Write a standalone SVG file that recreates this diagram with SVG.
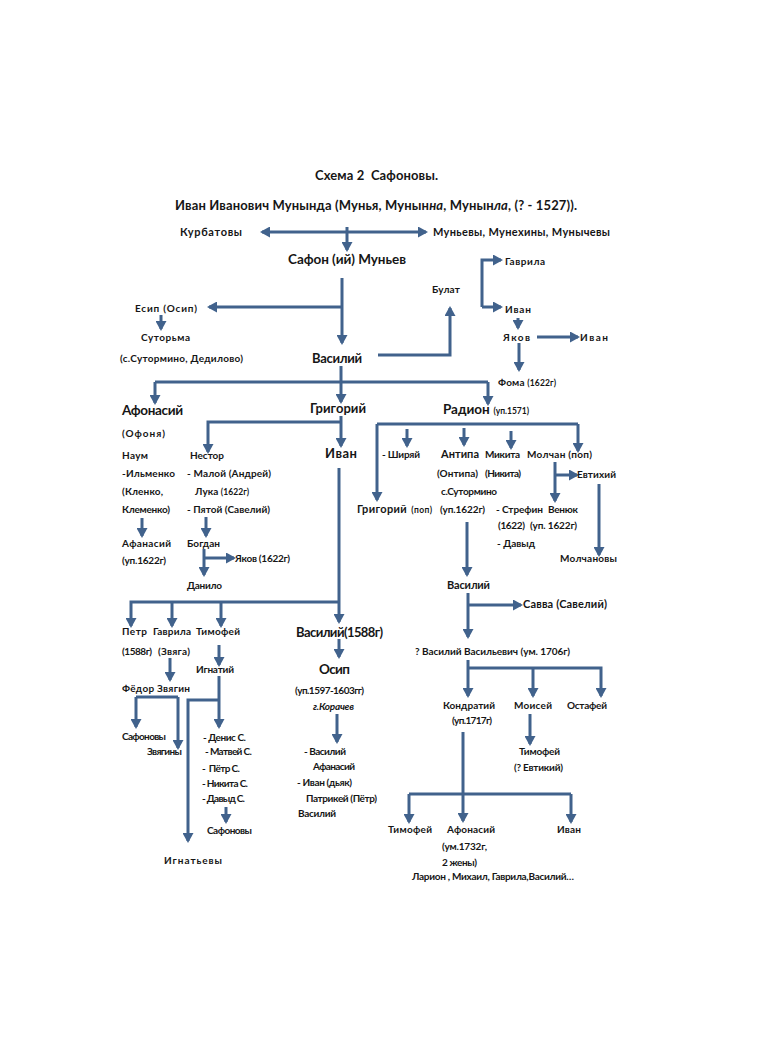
<svg xmlns="http://www.w3.org/2000/svg" width="772" height="1058" viewBox="0 0 772 1058">
<style>
text{font-family:Lato,"Open Sans","Liberation Sans",sans-serif;font-weight:bold;fill:#161616;white-space:pre}
.t{font-size:13px}
.l{font-size:13.5px}
.m{font-size:11px}
.s{font-size:10px}
.xs{font-size:8.5px}
.i{font-style:italic}
.c path{fill:none;stroke:#41628c;stroke-width:3;stroke-linejoin:miter}
.a{marker-end:url(#ah)}
</style>
<defs>
<marker id="ah" markerUnits="userSpaceOnUse" markerWidth="11" markerHeight="11" refX="8" refY="5.5" orient="auto">
<path d="M0,0 L10,5.5 L0,11 z" fill="#41628c"/>
</marker>
</defs>
<rect width="772" height="1058" fill="#fff"/>
<g id="connectors" class="c">
<path class="a" d="M347,227 V250"/>
<path class="a" d="M347,232 H262"/>
<path class="a" d="M347,232 H426"/>
<path class="a" d="M342,278 V343"/>
<path class="a" d="M342,307 H209"/>
<path class="a" d="M161,315 V329"/>
<path class="a" d="M378,355 H450 V308"/>
<path class="a" d="M482,307 V260 H501"/>
<path class="a" d="M482,307 H501"/>
<path class="a" d="M518,318 V328"/>
<path class="a" d="M537,337 H578"/>
<path class="a" d="M519,343 V370"/>
<path d="M155,382 H488"/>
<path class="a" d="M155,382 V403"/>
<path class="a" d="M488,382 V404"/>
<path class="a" d="M341,366 V402"/>
<path class="a" d="M341,416 V446"/>
<path class="a" d="M341,422 H208 V452"/>
<path class="a" d="M142,518 V536"/>
<path class="a" d="M206,517 V536"/>
<path class="a" d="M204,549 V575"/>
<path class="a" d="M204,558 H234"/>
<path d="M377,424 H578"/>
<path class="a" d="M377,424 V500"/>
<path class="a" d="M578,424 V451"/>
<path class="a" d="M407,429 V446"/>
<path class="a" d="M464,428 V445"/>
<path class="a" d="M511,431 V448"/>
<path class="a" d="M555,462 V501"/>
<path class="a" d="M555,475 H577"/>
<path class="a" d="M599,484 V555"/>
<path class="a" d="M467,522 V575"/>
<path class="a" d="M339,468 V622"/>
<path class="a" d="M339,602 H131 V626"/>
<path class="a" d="M172,602 V626"/>
<path class="a" d="M221,602 V626"/>
<path class="a" d="M339,639 V657"/>
<path class="a" d="M337,714 V742"/>
<path class="a" d="M170,658 V680"/>
<path class="a" d="M219,645 V665"/>
<path class="a" d="M219,676 V727"/>
<path class="a" d="M219,700 H188 V841"/>
<path d="M136,697 H178"/>
<path class="a" d="M136,697 V727"/>
<path class="a" d="M178,697 V748"/>
<path class="a" d="M226,807 V822"/>
<path class="a" d="M468,593 V637"/>
<path class="a" d="M468,605 H521"/>
<path class="a" d="M468,660 V696"/>
<path class="a" d="M468,668 H601 V696"/>
<path class="a" d="M533,668 V696"/>
<path class="a" d="M530,714 V744"/>
<path class="a" d="M463,732 V821"/>
<path d="M409,794 H571"/>
<path class="a" d="M409,794 V822"/>
<path class="a" d="M571,794 V822"/>
</g>
<g id="title"><text class="t" x="315" y="180" textLength="123">Схема 2  Сафоновы.</text></g>
<g id="ivan-munynda"><text class="t" x="175" y="210" textLength="402">Иван Иванович Мунында (Мунья, Мунын<tspan class="i">на</tspan>, Мунын<tspan class="i">ла</tspan>, (? - 1527)).</text></g>
<g id="kurbatovy"><text class="m" x="180" y="236" textLength="62">Курбатовы</text></g>
<g id="munevy"><text class="m" x="433" y="236" textLength="177">Муньевы, Мунехины, Мунычевы</text></g>
<g id="safon"><text class="l" x="288" y="264" textLength="118">Сафон (ий) Муньев</text></g>
<g id="esip"><text class="s" x="135" y="312" textLength="62">Есип (Осип)</text>
<text class="s" x="141" y="341" textLength="49">Суторьма</text>
<text class="s" x="120" y="362" textLength="123">(с.Сутормино, Дедилово)</text></g>
<g id="vasiliy1"><text class="t" x="312" y="363" textLength="50">Василий</text></g>
<g id="bulat"><text class="s" x="432" y="293" textLength="28">Булат</text></g>
<g id="gavrila1"><text class="s" x="505" y="265" textLength="40">Гаврила</text></g>
<g id="ivan-b"><text class="s" x="505" y="313" textLength="26">Иван</text></g>
<g id="yakov-b"><text class="s" x="503" y="341" textLength="27">Яков</text></g>
<g id="ivan-y"><text class="s" x="580" y="341" textLength="28">Иван</text></g>
<g id="foma"><text class="s" x="498" y="386" textLength="58">Фома <tspan class="xs">(1622г)</tspan></text></g>
<g id="afonasiy"><text class="l" x="122" y="415" textLength="61">Афонасий</text>
<text class="s" x="122" y="437" textLength="43">(Офоня)</text></g>
<g id="grigoriy"><text class="t" x="310" y="413" textLength="56">Григорий</text></g>
<g id="radion"><text x="443" y="414" textLength="86"><tspan class="l">Радион</tspan> <tspan class="xs">(уп.1571)</tspan></text></g>
<g id="ivan-g"><text class="t" x="325" y="458" textLength="32">Иван</text></g>
<g id="naum"><text class="s" x="122" y="459" textLength="26">Наум</text>
<text class="s" x="122" y="477" textLength="53">-Ильменко</text>
<text class="s" x="122" y="495" textLength="41">(Кленко,</text>
<text class="s" x="122" y="513" textLength="48">Клеменко)</text></g>
<g id="afanasiy-n"><text class="s" x="122" y="547" textLength="49">Афанасий</text>
<text class="s" x="122" y="564" textLength="44">(уп.1622г)</text></g>
<g id="nestor"><text class="s" x="190" y="459" textLength="34">Нестор</text>
<text class="s" x="187" y="477" textLength="84">- Малой (Андрей)</text>
<text class="s" x="195" y="495" textLength="54">Лука <tspan class="xs">(1622г)</tspan></text>
<text class="s" x="187" y="513" textLength="83">- Пятой (Савелий)</text></g>
<g id="bogdan"><text class="s" x="187" y="547" textLength="33">Богдан</text></g>
<g id="yakov-bog"><text class="s" x="235" y="562" textLength="55">Яков (1622г)</text></g>
<g id="danilo"><text class="s" x="187" y="589" textLength="35">Данило</text></g>
<g id="shiryay"><text class="s" x="382" y="458" textLength="38">- Ширяй</text></g>
<g id="antipa"><text class="m" x="441" y="458" textLength="38">Антипа</text>
<text class="s" x="437" y="477" textLength="41">(Онтипа)</text>
<text class="s" x="441" y="495" textLength="56">с.Сутормино</text>
<text class="s" x="440" y="513" textLength="45">(уп.1622г)</text></g>
<g id="mikita"><text class="s" x="485" y="458" textLength="35">Микита</text>
<text class="s" x="485" y="477" textLength="36">(Никита)</text></g>
<g id="molchan"><text class="s" x="527" y="458" textLength="65">Молчан (поп)</text></g>
<g id="grigoriy-pop"><text x="357" y="513" textLength="75"><tspan class="m">Григорий</tspan> <tspan class="xs">(поп)</tspan></text></g>
<g id="strefin"><text class="s" x="496" y="513" textLength="47">- Стрефин</text>
<text class="s" x="498" y="529" textLength="27">(1622)</text>
<text class="s" x="497" y="547" textLength="38">- Давыд</text></g>
<g id="venyuk"><text class="s" x="548" y="513" textLength="30">Венюк</text>
<text class="s" x="530" y="529" textLength="47">(уп. 1622г)</text></g>
<g id="evtikhiy"><text class="s" x="577" y="478" textLength="39">Евтихий</text></g>
<g id="molchanovy"><text class="s" x="560" y="562" textLength="57">Молчановы</text></g>
<g id="vasiliy-a"><text class="m" x="447" y="589" textLength="43">Василий</text></g>
<g id="savva"><text class="m" x="523" y="608" textLength="84">Савва (Савелий)</text></g>
<g id="vasiliy-v"><text class="s" x="415" y="655" textLength="155">? Василий Васильевич (ум. 1706г)</text></g>
<g id="kondratiy"><text class="s" x="443" y="709" textLength="52">Кондратий</text>
<text class="s" x="452" y="724" textLength="40">(уп.1717г)</text></g>
<g id="moisey"><text class="s" x="514" y="709" textLength="38">Моисей</text></g>
<g id="ostafey"><text class="s" x="567" y="709" textLength="40">Остафей</text></g>
<g id="timofey-m"><text class="s" x="519" y="755" textLength="41">Тимофей</text>
<text class="s" x="514" y="771" textLength="49">(? Евтикий)</text></g>
<g id="timofey-k"><text class="s" x="388" y="833" textLength="44">Тимофей</text></g>
<g id="afonasiy-k"><text class="s" x="447" y="833" textLength="48">Афонасий</text>
<text class="s" x="442" y="850" textLength="45">(ум.1732г,</text>
<text class="s" x="442" y="866" textLength="35">2 жены)</text>
<text class="s" x="412" y="880" textLength="162">Ларион , Михаил, Гаврила,Василий…</text></g>
<g id="ivan-k"><text class="s" x="557" y="833" textLength="24">Иван</text></g>
<g id="petr"><text class="s" x="122" y="635" textLength="25">Петр</text>
<text class="s" x="122" y="655" textLength="30">(1588г)</text></g>
<g id="gavrila2"><text class="s" x="153" y="635" textLength="38">Гаврила</text>
<text class="s" x="158" y="655" textLength="32">(Звяга)</text></g>
<g id="timofey-i"><text class="s" x="196" y="635" textLength="44">Тимофей</text></g>
<g id="ignatiy"><text class="s" x="196" y="673" textLength="38">Игнатий</text></g>
<g id="fedor"><text class="s" x="122" y="692" textLength="68">Фёдор Звягин</text></g>
<g id="safonovy1"><text class="s" x="122" y="740" textLength="44">Сафоновы</text></g>
<g id="zvyaginy"><text class="s" x="147" y="755" textLength="35">Звягины</text></g>
<g id="ignatiy-sons"><text class="s" x="203" y="741" textLength="43">- Денис С.</text>
<text class="s" x="205" y="755" textLength="47">- Матвей С.</text>
<text class="s" x="202" y="772" textLength="38">-  Пётр С.</text>
<text class="s" x="202" y="787" textLength="46">- Никита С.</text>
<text class="s" x="202" y="802" textLength="43">- Давыд С.</text></g>
<g id="safonovy2"><text class="s" x="207" y="834" textLength="45">Сафоновы</text></g>
<g id="ignatevy"><text class="s" x="164" y="864" textLength="58">Игнатьевы</text></g>
<g id="vasiliy1588"><text class="t" x="296" y="637" textLength="87">Василий(1588г)</text></g>
<g id="osip"><text class="l" x="319" y="674" textLength="31">Осип</text>
<text class="s" x="295" y="694" textLength="69">(уп.1597-1603гг)</text>
<text class="s i" x="313" y="710" textLength="41">г.Корачев</text></g>
<g id="osip-sons"><text class="s" x="304" y="755" textLength="42">- Василий</text>
<text class="s" x="313" y="770" textLength="42">Афанасий</text>
<text class="s" x="297" y="786" textLength="55">- Иван (дьяк)</text>
<text class="s" x="306" y="802" textLength="71">Патрикей (Пётр)</text>
<text class="s" x="298" y="817" textLength="38">Василий</text></g>
</svg>
